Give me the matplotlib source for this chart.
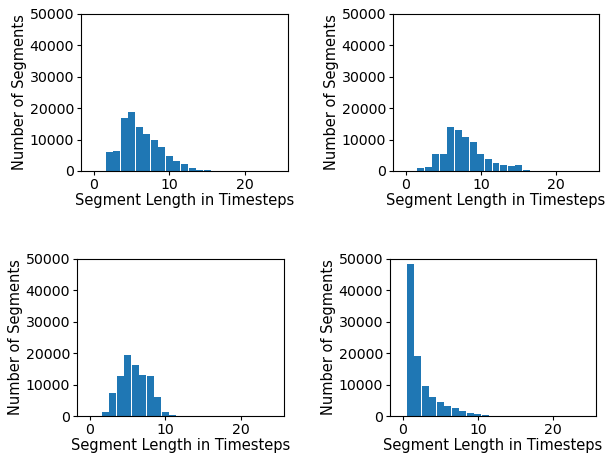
# Segment length histograms, four panels
import numpy as np
from matplotlib import pyplot as plt

lengths = list(range(25))

# counts per segment length (0..24)
counts_a = [100, 100, 6000, 6300, 16800, 18700, 13900, 11700, 9800, 7600,
            4700, 3100, 2100, 850, 250, 250, 100, 100, 100, 100,
            100, 100, 100, 100, 100]
counts_b = [100, 100, 850, 1300, 5300, 5300, 13900, 13000, 10800, 9150,
            5300, 3700, 2450, 1900, 1600, 1900, 250, 100, 100, 100,
            100, 100, 100, 100, 100]
counts_c = [100, 100, 1200, 7250, 12700, 19400, 16200, 13000, 12700, 6100,
            1200, 300, 100, 100, 100, 100, 100, 100, 100, 100,
            100, 100, 100, 100, 100]
counts_d = [0, 48500, 19100, 9500, 6100, 4400, 3200, 2450, 1600, 960,
            530, 320, 130, 100, 100, 100, 100, 100, 100, 100,
            100, 100, 100, 100, 100]

W, H = 606, 453
fig = plt.figure(figsize=(W / 100, H / 100), dpi=100)

# axes boxes in pixels: left, top, right, bottom
boxes = [(81, 14, 288, 171), (393, 14, 599, 171),
         (77, 259, 284, 416), (390, 259, 596, 416)]

for box, counts in zip(boxes, [counts_a, counts_b, counts_c, counts_d]):
    l, t, r, b = box
    ax = fig.add_axes([l / W, 1 - b / H, (r - l) / W, (b - t) / H])
    ax.bar(lengths, counts, width=0.93, color="#1f77b4")
    ax.set_ylim(0, 50000)
    ax.set_yticks([0, 10000, 20000, 30000, 40000, 50000])
    ax.set_xticks([0, 10, 20])
    ax.tick_params(labelsize=10.2, length=3, pad=2)
    ax.set_xlabel("Segment Length in Timesteps", fontsize=10.5, labelpad=1)
    ax.set_ylabel("Number of Segments", fontsize=10.5, labelpad=1.5)

fig.savefig("out.png", dpi=100)
